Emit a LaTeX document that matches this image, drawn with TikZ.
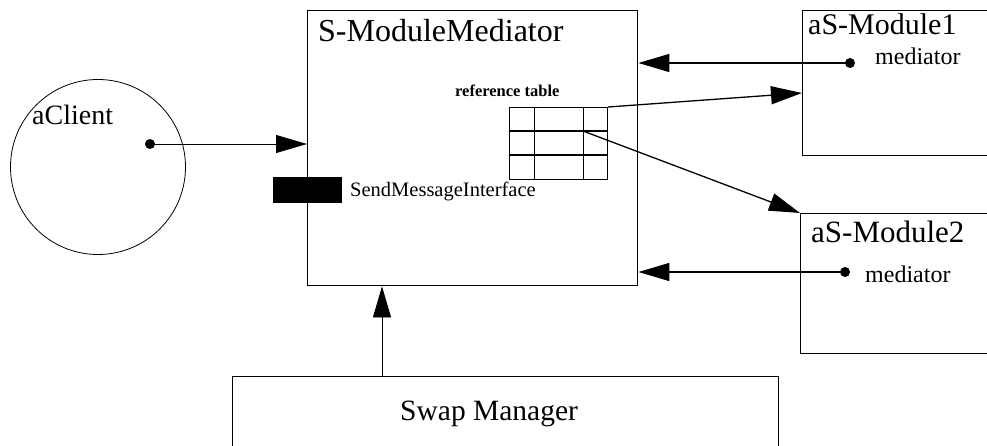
\documentclass[tikz,border=0pt]{standalone}
\usepackage{fontspec}
\setmainfont{Liberation Serif}
\usetikzlibrary{arrows.meta}

\begin{document}
\begin{tikzpicture}[x=1pt,y=-1pt,
  box/.style={draw, rectangle, line width=1.4pt, inner sep=0pt, anchor=north west},
  dot/.style={circle, fill=black, inner sep=0pt, minimum size=10pt},
  arr/.style={line width=1.3pt, -{Triangle[length=31pt,width=18pt]}},
  thinarr/.style={line width=0.8pt, -{Triangle[length=31pt,width=18pt]}},
  lbl/.style={anchor=base west, inner sep=0pt},
  big/.style={lbl, font=\fontsize{31}{36}\selectfont},
  mid/.style={lbl, font=\fontsize{24}{28}\selectfont},
  small/.style={lbl, font=\fontsize{20}{24}\selectfont},
  tiny/.style={lbl, font=\bfseries\fontsize{16.5}{20}\selectfont}
]
\useasboundingbox (0,0) rectangle (987,446);
\clip (0,0) rectangle (987,446);

% client object
\node[circle, draw, line width=0.8pt, minimum size=175pt, inner sep=0pt] (client) at (98,167) {};
\node[big, font=\fontsize{28}{32}\selectfont] (clientlbl) at (32,125) {aClient};
\node[dot] (cdot) at (150,144) {};

% mediator
\node[box, minimum width=330pt, minimum height=275pt] (med) at (307,10) {};
\node[big, font=\fontsize{32}{36}\selectfont] (medlbl) at (318,42) {S-ModuleMediator};
\node[fill=black, anchor=north west, minimum width=69pt, minimum height=26pt, inner sep=0pt] (smi) at (273,177) {};
\node[small, font=\fontsize{20.5}{24}\selectfont] (smilbl) at (350,197) {SendMessageInterface};

% reference table
\node[tiny] (tbllbl) at (455,97) {reference table};
\node[box, line width=1.2pt, minimum width=98pt, minimum height=72pt] (tbl) at (509,107) {};
\draw[line width=1.2pt] (509,131) -- (607,131) (509,155) -- (607,155);
\draw[line width=0.8pt] (534,107) -- (534,179) (583,107) -- (583,179);
\coordinate (tslot) at (583,131);

% modules
\node[box, minimum width=250pt, minimum height=145pt] (mod1) at (802,10) {};
\node[big, font=\fontsize{30}{34}\selectfont] (mod1lbl) at (808,35) {aS-Module1};
\node[dot] (m1dot) at (850,63) {};
\node[mid] (m1med) at (875,65) {mediator};
\coordinate (m1in) at (802,93);

\node[box, minimum width=250pt, minimum height=140pt] (mod2) at (800,213) {};
\node[big, font=\fontsize{31}{36}\selectfont] (mod2lbl) at (811,243) {aS-Module2};
\node[dot] (m2dot) at (845,272) {};
\node[mid] (m2med) at (865,282) {mediator};

% swap manager
\node[box, line width=1.1pt, minimum width=546pt, minimum height=100pt] (swap) at (232,376) {};
\node[big, font=\fontsize{29.5}{34}\selectfont] (swaplbl) at (400,420) {Swap Manager};
\coordinate (swtop) at (382,376);

% connectors
\draw[thinarr] (cdot.center) -- (cdot.center -| med.west);
\draw[arr] (m1dot.center) -- (m1dot.center -| med.east);
\draw[arr] (m2dot.center) -- (m2dot.center -| med.east);
\draw[arr] (tbl.north east) -- (m1in);
\draw[arr] (tslot) -- (mod2.north west);
\draw[thinarr] (swtop) -- (swtop |- med.south);
\end{tikzpicture}
\end{document}
